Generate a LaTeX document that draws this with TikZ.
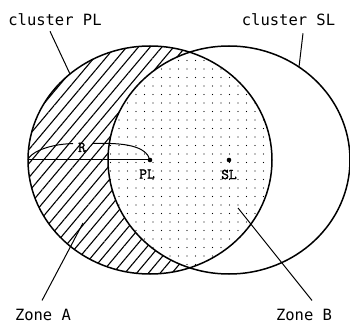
\documentclass[tikz,border=0pt]{standalone}
\usepackage{fontspec}
\newfontfamily\tagfont{DejaVu Sans Mono}
\newfontfamily\markfont[FakeBold=1.6]{Latin Modern Mono}
\usepackage{tikz}
\usetikzlibrary{patterns.meta}
\tikzset{tag/.style={font=\tagfont\fontsize{15.5}{17}\selectfont,inner sep=0pt},
mark label/.style={font=\markfont\fontsize{15}{17}\selectfont,inner sep=0pt},
lead/.style={line width=1pt},
hatch/.style={pattern={Lines[angle=50,distance=9pt,line width=1.1pt]}},
dotty/.style={pattern={Dots[distance=8.5pt,radius=0.7pt]}},
zone/.style={x radius=122,y radius=114}}
\begin{document}
\begin{tikzpicture}[x=1pt,y=1pt,line width=1.5pt]
\useasboundingbox(0,0)rectangle(350,324);
\coordinate(pl)at(150,164);
\coordinate(sl)at(229,164);
\coordinate(redge)at(28,164);
\path[hatch](pl)ellipse[zone];
\begin{scope}
\clip(pl)ellipse[zone];
\fill[white](sl)ellipse[zone,x radius=121];
\path[dotty](sl)ellipse[zone,x radius=121];
\end{scope}
\draw(pl)ellipse[zone];
\draw(sl)ellipse[zone,x radius=121];
\draw[lead](redge)--(pl);
\node[mark label](rlab)at(82,176.5){R};
\coordinate(r1)at(73,180.5);
\coordinate(r2)at(93,180.5);
\draw[lead](redge)..controls(29,170)and(45,179.5)..(r1);
\draw[lead](r2)..controls(125,181.5)and(146,178)..(pl);
\fill(pl)circle(2.3);
\fill(sl)circle(2.3);
\node[mark label](pllab)at(147,150){PL};
\node[mark label](sllab)at(229,149.5){SL};
\node[tag](cpl)at(55,304.5){cluster PL};
\node[tag](csl)at(288.5,304){cluster SL};
\node[tag](za)at(43,9){Zone A};
\node[tag](zb)at(304,9){Zone B};
\coordinate(cplend)at(70,250);
\coordinate(cslend)at(299,257);
\coordinate(zaend)at(83,101);
\coordinate(zbend)at(238,116);
\draw[lead]([xshift=-5pt,yshift=-5pt]cpl.south)--(cplend);
\draw[lead]([xshift=14.5pt,yshift=-6.5pt]csl.south)--(cslend);
\draw[lead]([xshift=-1pt,yshift=8pt]za.north)--(zaend);
\draw[lead]([xshift=8pt,yshift=8pt]zb.north)--(zbend);
\end{tikzpicture}
\end{document}
